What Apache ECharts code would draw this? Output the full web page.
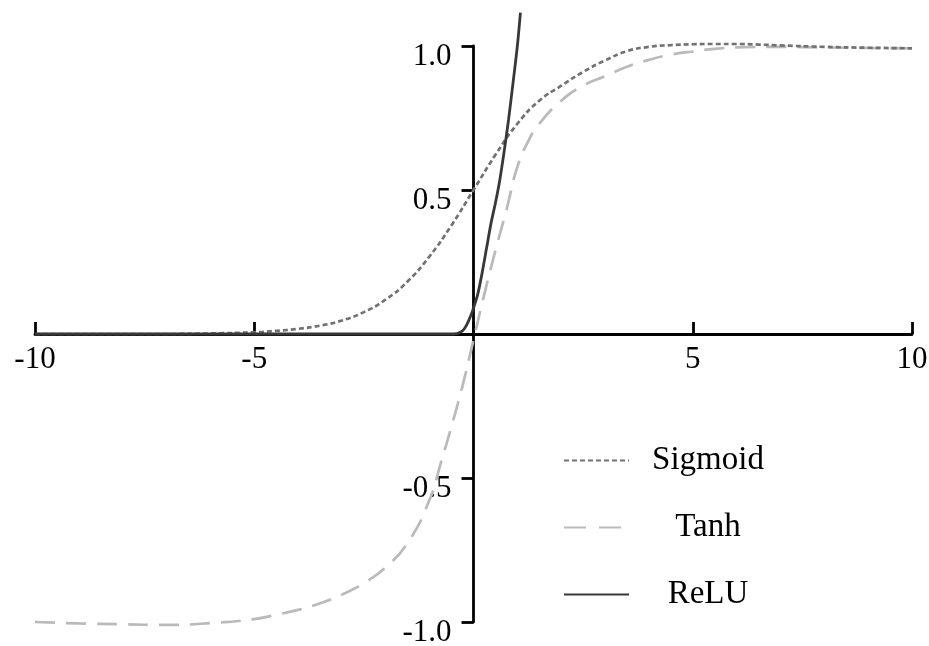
<!DOCTYPE html>
<html>
<head>
<meta charset="utf-8">
<script src="https://cdn.jsdelivr.net/npm/echarts@6/dist/echarts.min.js"></script>
<style>
    html, body { margin: 0; padding: 0; background: #fff; }
    #chart { width: 929px; height: 646px; }
</style>
</head>
<body>
<div id="chart"></div>
<script>
    var seriesNames = ['Sigmoid', 'Tanh', 'ReLU'];

    var sigmoidX = [-10, -9, -8, -7, -6, -5, -4.5, -4, -3.5, -3, -2.5, -2, -1.5, -1, -0.5, 0, 0.5, 1, 1.5, 2, 2.5, 3, 3.5, 4, 4.5, 5, 5.5, 6, 6.5, 7, 8, 9, 10];
    var sigmoidY = [0, 0, 0, 0, 0.002, 0.006, 0.011, 0.018, 0.029, 0.047, 0.076, 0.12, 0.183, 0.27, 0.378, 0.5, 0.622, 0.73, 0.81, 0.862, 0.91, 0.95, 0.982, 0.997, 1.003, 1.006, 1.007, 1.007, 1.005, 1.002, 0.997, 0.994, 0.992];

    var tanhX = [-10, -9, -8, -7, -6, -5, -4.5, -4, -3.5, -3, -2.5, -2, -1.5, -1, -0.75, -0.5, -0.25, 0, 0.25, 0.5, 0.75, 1, 1.25, 1.5, 2, 2.5, 3, 3.5, 4, 4.5, 5, 5.5, 6, 7, 8, 9, 10];
    var tanhY = [-1, -1.005, -1.008, -1.01, -1.004, -0.99, -0.975, -0.958, -0.935, -0.905, -0.865, -0.81, -0.725, -0.575, -0.45, -0.32, -0.18, -0.02, 0.14, 0.29, 0.43, 0.58, 0.67, 0.73, 0.81, 0.862, 0.895, 0.928, 0.952, 0.97, 0.981, 0.99, 0.995, 0.997, 0.995, 0.993, 0.992];

    var reluX = [-10, -5, -1, -0.45, -0.3, -0.2, -0.1, 0, 0.1, 0.2, 0.3, 0.4, 0.5, 0.6, 0.7, 0.8, 0.9, 1, 1.07];
    var reluY = [0, 0, 0, 0, 0.006, 0.02, 0.05, 0.09, 0.14, 0.215, 0.3, 0.385, 0.455, 0.535, 0.635, 0.745, 0.87, 1.0, 1.116];

    var xTickValues = [-10, -5, 0, 5, 10];
    var xTickLabels = ['-10', '-5', '', '5', '10'];
    var yTickValues = [-1, -0.5, 0, 0.5, 1];
    var yTickLabels = ['-1.0', '-0.5', '', '0.5', '1.0'];

    var serif = '"Liberation Serif", "Times New Roman", serif';

    var lineStyles = {
        Sigmoid: { color: '#727272', width: 2.7, type: [5, 3] },
        Tanh: { color: '#bababa', width: 2.7, type: [20, 11] },
        ReLU: { color: '#383838', width: 2.8 }
    };
    var legendDash = { Tanh: [22, 13] };

    function pairs(xs, ys) {
        return xs.map(function (x, i) { return [x, ys[i]]; });
    }
    function tickLabel(values, labels) {
        return function (v) {
            var i = values.indexOf(v);
            return i < 0 ? '' : labels[i];
        };
    }

    var myChart = echarts.init(document.getElementById('chart'));
    myChart.setOption({
        animation: false,
        backgroundColor: '#fff',
        grid: { left: 35, right: 17, top: 46, bottom: 24, outerBoundsMode: 'none', containLabel: false },
        legend: {
            data: seriesNames.map(function (n) {
                return legendDash[n] ? { name: n, lineStyle: { type: legendDash[n] } } : { name: n };
            }),
            orient: 'vertical',
            left: 558,
            top: 439,
            itemWidth: 65,
            itemHeight: 14,
            itemGap: 34,
            itemStyle: { opacity: 0 },
            formatter: '{a|{name}}',
            textStyle: {
                rich: {
                    a: { width: 148, align: 'center', fontSize: 33, lineHeight: 33, fontFamily: serif, color: '#000' }
                }
            }
        },
        xAxis: {
            type: 'value',
            min: -10,
            max: 10,
            interval: 5,
            axisLine: { onZero: false, lineStyle: { color: '#000', width: 2.8 } },
            axisTick: { inside: true, length: 12, lineStyle: { color: '#000', width: 2.8 } },
            axisLabel: { margin: 10, fontSize: 31, fontFamily: serif, color: '#000', formatter: tickLabel(xTickValues, xTickLabels) },
            splitLine: { show: false }
        },
        yAxis: {
            type: 'value',
            min: -1,
            max: 1,
            interval: 0.5,
            axisLine: { onZero: false, lineStyle: { color: '#000', width: 2.8 } },
            axisTick: { length: 12, lineStyle: { color: '#000', width: 2.8 } },
            axisLabel: { margin: 22, fontSize: 31, fontFamily: serif, color: '#000', verticalAlign: 'top', lineHeight: 22, formatter: tickLabel(yTickValues, yTickLabels) },
            splitLine: { show: false }
        },
        series: [
            {
                name: 'Sigmoid',
                type: 'line',
                z: 3,
                clip: false,
                symbol: 'none',
                smooth: 0.5,
                lineStyle: lineStyles.Sigmoid,
                itemStyle: { color: lineStyles.Sigmoid.color },
                data: pairs(sigmoidX, sigmoidY)
            },
            {
                name: 'Tanh',
                type: 'line',
                z: 2,
                clip: false,
                symbol: 'none',
                smooth: 0.5,
                lineStyle: lineStyles.Tanh,
                itemStyle: { color: lineStyles.Tanh.color },
                data: pairs(tanhX, tanhY)
            },
            {
                name: 'ReLU',
                type: 'line',
                z: 4,
                clip: false,
                symbol: 'none',
                smooth: 0.3,
                lineStyle: lineStyles.ReLU,
                itemStyle: { color: lineStyles.ReLU.color },
                data: pairs(reluX, reluY)
            }
        ]
    });

    // move both axes (line, ticks and labels) onto the data origin
    var origin = myChart.convertToPixel({ gridIndex: 0 }, [0, 0]);
    var corner = myChart.convertToPixel({ gridIndex: 0 }, [-10, -1]);
    myChart.setOption({
        xAxis: { offset: -(corner[1] - origin[1]) },
        yAxis: { offset: -(origin[0] - corner[0]) }
    });
</script>
</body>
</html>
